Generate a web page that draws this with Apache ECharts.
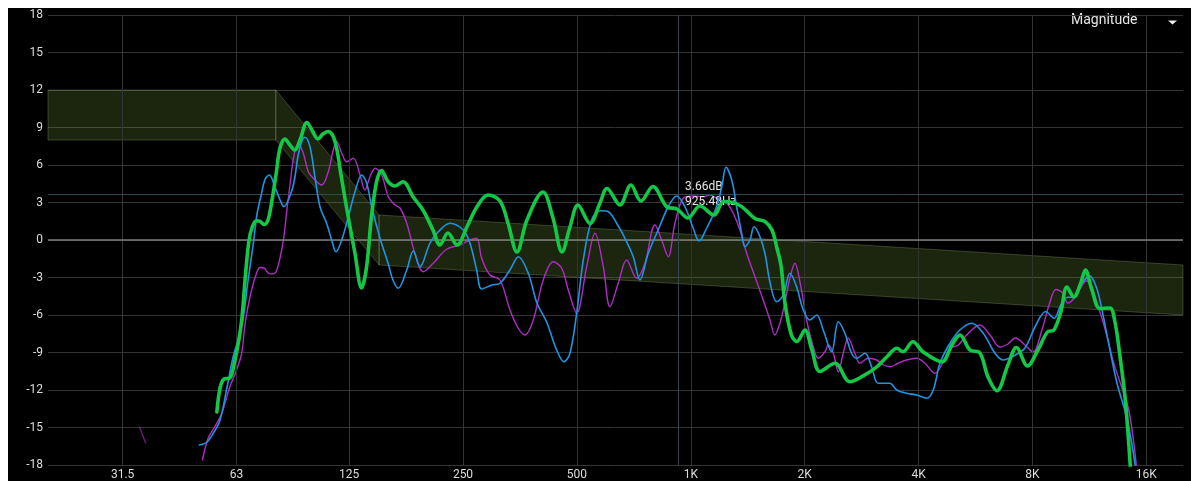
<!DOCTYPE html>
<html>
<head>
<meta charset="utf-8">
<script src="https://cdn.jsdelivr.net/npm/echarts@6/dist/echarts.min.js"></script>
<style>
  html, body { margin: 0; padding: 0; background: #fff; }
  #chart { position: absolute; left: 8px; top: 8px; width: 1183px; height: 473px; background: #000; }
</style>
</head>
<body>
<div id="chart"></div>
<script>
// Octave tick positions (Hz) and their labels
const tickFreqs = [31.5, 63, 125, 250, 500, 1000, 2000, 4000, 8000, 16000];
const tickLabels = ['31.5', '63', '125', '250', '500', '1K', '2K', '4K', '8K', '16K'];

// Target band: corner frequencies with upper / lower limits (dB)
const bandFreqs = [20, 80, 150, 20000];
const bandUpper = [12, 12, 2, -2];
const bandLower = [8, 8, -2, -6];

// Cursor readout
const cursorFreq = 925.48;
const cursorDb = 3.66;

// Measurement traces: [frequency Hz, level dB]
const magentaStray = [[34.9,-14.94],[35.4,-15.44],[36.2,-16.22]];

const magentaCurve = [
  [51.2,-17.6],[53.0,-15.86],[55.2,-14.94],[57.6,-13.86],[60.5,-11.74],[63.0,-10.4],[65.0,-9.06],[66.3,-6.8],
  [68.1,-4.8],[69.6,-3.6],[70.9,-2.8],[72.6,-2.2],[74.5,-2.24],[76.4,-2.64],[78.2,-2.72],[80.1,-2.56],
  [82.1,-1.44],[84.1,0.32],[85.6,2.4],[87.2,4.4],[89.4,6.8],[91.7,7.74],[94.6,6.94],[97.5,5.46],
  [100.5,4.94],[105.8,4.4],[110.1,5.46],[113.5,7.2],[115.9,7.86],[119.5,6.94],[123.2,6.26],[128.2,6.54],
  [133.6,5.2],[137.6,4.0],[141.9,5.06],[146.4,5.74],[152.4,5.2],[158.7,3.46],[165.2,2.8],[170.4,2.56],
  [177.5,1.34],[186.6,-1.06],[196.3,-2.54],[208.6,-1.86],[226.3,-0.74],[245.4,-0.4],[260.8,0],[271.7,0.14],
  [280.1,-1.46],[294.6,-2.8],[313.1,-3.2],[332.7,-5.6],[350.0,-7.06],[364.5,-7.6],[383.4,-6.4],[407.4,-3.2],
  [433.1,-1.74],[455.8,-2.26],[474.5,-4.0],[499.3,-5.86],[530.6,-2.14],[558.2,0.54],[587.2,-2.14],[611.5,-5.34],
  [643.1,-3.46],[676.9,-1.6],[719.3,-3.06],[756.5,-1.86],[804.0,1.2],[837.5,0],[871.8,-1.34],[908.1,1.34],
  [955.2,3.34],[1015,3.52],[1078,3.46],[1123,3.6],[1170,3.34],[1244,2.94],[1295,2.14],[1349,0.8],
  [1405,-1.06],[1478,-2.94],[1554,-4.8],[1619,-6.4],[1668,-7.6],[1720,-6.66],[1756,-5.6],[1828,-3.06],
  [1885,-1.86],[1943,-3.34],[2024,-6.4],[2107,-8.54],[2172,-9.46],[2263,-8.94],[2309,-8.4],[2381,-9.06],
  [2454,-10.54],[2529,-9.06],[2607,-7.86],[2715,-9.06],[2800,-9.86],[2944,-9.46],[3099,-9.6],[3227,-10.0],
  [3361,-10.14],[3535,-9.86],[3719,-9.6],[3953,-9.46],[4158,-9.86],[4419,-10.66],[4648,-9.74],[4842,-8.66],
  [5092,-8.4],[5360,-7.6],[5811,-6.8],[6175,-7.6],[6564,-8.56],[6891,-8.32],[7213,-7.84],[7642,-8.4],
  [8023,-8.96],[8495,-7.08],[8855,-5.18],[9229,-3.96],[9612,-4.23],[9916,-5.04],[10227,-4.78],[10660,-3.96],
  [11103,-3.28],[11335,-3.42],[11815,-4.91],[12435,-7.08],[13103,-9.79],[13648,-11.42],[14372,-13.58],[14979,-17.38],
  [15201,-20]
];

const blueCurve = [
  [50.2,-16.4],[52.5,-16.2],[54.7,-15.46],[57.0,-14.4],[59.4,-11.84],[61.7,-9.36],[63.6,-8.0],[65.6,-6.24],
  [67.6,-3.2],[69.8,-0.24],[71.3,2.0],[73.1,3.52],[75.0,4.88],[76.9,5.2],[79.6,4.24],[82.1,3.2],
  [84.1,2.66],[87.2,3.52],[89.4,4.64],[91.7,6.8],[93.8,7.92],[95.5,8.22],[98.5,7.46],[101.5,5.06],
  [104.7,2.66],[109.0,1.34],[112.4,0],[115.4,-0.94],[119.5,0],[124.4,1.86],[129.5,3.84],[135.0,5.2],
  [139.1,4.54],[143.4,2.66],[150.8,0.16],[158.7,-1.92],[163.2,-3.2],[168.6,-3.86],[177.5,-2.4],[184.7,-0.88],
  [192.4,-2.14],[204.4,-0.26],[215.1,0.66],[230.9,1.34],[250.4,0.8],[260.8,-0.26],[271.7,-2.4],[280.1,-3.92],
  [298.2,-3.6],[313.1,-3.46],[332.7,-2.4],[350.0,-1.34],[371.9,-2.66],[392.1,-5.04],[415.9,-6.56],[442.1,-8.8],
  [462.2,-9.74],[479.4,-9.06],[499.3,-5.86],[519.8,-1.6],[547.0,1.6],[575.5,2.34],[605.2,2.26],[636.9,1.34],
  [669.9,0.14],[704.6,-1.34],[733.9,-3.2],[771.9,-1.06],[819.9,0.8],[871.8,2.66],[917.5,3.52],[965.1,2.66],
  [1015,0.94],[1052,-0.08],[1101,0.94],[1170,2.66],[1209,4.32],[1239,5.82],[1283,4.8],[1322,2.66],
  [1363,0.54],[1390,-0.54],[1434,0],[1469,1.06],[1517,0.4],[1570,-1.06],[1619,-3.36],[1686,-4.94],
  [1756,-4.4],[1828,-2.66],[1904,-3.74],[1983,-5.6],[2065,-6.4],[2151,-6.0],[2239,-7.2],[2357,-8.94],
  [2454,-6.54],[2555,-7.46],[2661,-9.06],[2743,-9.46],[2886,-9.06],[3005,-10.14],[3130,-11.46],[3361,-11.46],
  [3501,-12.0],[3719,-12.26],[3953,-12.4],[4201,-12.66],[4374,-12.0],[4555,-9.86],[4842,-8.26],[5145,-7.2],
  [5525,-6.66],[5929,-7.46],[6367,-9.06],[6696,-9.6],[7126,-9.28],[7642,-8.64],[8146,-6.88],[8674,-5.72],
  [9128,-6.26],[9513,-5.18],[9916,-4.58],[10334,-4.58],[10771,-3.55],[11335,-2.87],[11815,-3.82],[12187,-5.45],
  [12701,-8.16],[13376,-11.42],[14215,-14.26],[14979,-18.2],[15110,-20]
];

const greenCurve = [
  [55.9,-13.76],[57.0,-11.84],[58.4,-11.12],[60.5,-11.04],[62.4,-9.6],[63.9,-8.0],[65.1,-6.24],[66.7,-2.4],
  [68.0,0],[69.2,0.96],[70.9,1.52],[72.2,1.52],[74.5,1.24],[76.3,1.6],[78.2,3.2],[80.1,5.2],
  [82.1,7.36],[84.6,8.08],[87.2,7.6],[89.9,7.2],[92.7,8.0],[96.7,9.4],[99.7,8.8],[103.4,8.08],
  [106.6,8.48],[109.9,8.68],[113.3,8.32],[116.1,7.2],[119.0,5.2],[123.4,2.4],[129.5,-1.04],[134.8,-3.84],
  [138.9,-2.24],[143.2,1.84],[147.7,4.64],[152.2,5.56],[158.4,4.68],[165.2,4.32],[173.5,4.66],[184.4,3.46],
  [195.9,2.4],[208.2,0.8],[217.3,-0.4],[228.1,0.56],[241.0,-0.4],[256.1,1.06],[272.2,2.66],[291.0,3.6],
  [313.1,3.12],[328.7,1.36],[347.2,-0.96],[369.0,1.6],[406.7,3.84],[432.3,1.76],[456.6,-0.96],[479.4,1.04],
  [503.3,2.8],[541.4,1.32],[575.5,2.96],[600.4,4.12],[649.8,2.8],[694.8,4.4],[738.4,3.12],[794.3,4.28],
  [864.9,2.64],[919.2,2.48],[982.9,1.76],[1057,2.72],[1151,2.0],[1224,3.08],[1349,2.76],[1478,1.72],
  [1570,1.48],[1639,0.8],[1689,-0.64],[1731,-2.0],[1774,-5.04],[1845,-7.6],[1908,-8.12],[2003,-7.2],
  [2090,-8.8],[2195,-10.52],[2405,-9.86],[2634,-11.34],[2939,-10.64],[3105,-10.14],[3300,-9.34],[3507,-8.66],
  [3637,-8.94],[3865,-8.14],[4108,-8.94],[4611,-9.74],[4901,-8.4],[5145,-7.6],[5468,-8.8],[5811,-9.04],
  [6101,-10.94],[6445,-12.06],[6891,-10.0],[7257,-8.6],[7759,-10.08],[8271,-8.8],[8764,-7.36],[9117,-7.2],
  [9513,-5.72],[9868,-3.76],[10296,-4.56],[10712,-3.52],[11043,-2.4],[11453,-3.84],[12062,-5.48],[12818,-5.44],
  [13215,-6.54],[13623,-9.25],[14078,-12.78],[14523,-18.2],[14656,-20]
];

const FONT = 'Roboto';
const chart = echarts.init(document.getElementById('chart'), null, { renderer: 'canvas' });

function tickLabelFor(v) {
  for (let i = 0; i < tickFreqs.length; i++) {
    if (Math.abs(Math.log(v / tickFreqs[i])) < 0.01) return tickLabels[i];
  }
  return '';
}

function traceSeries(name, data, color, width, z) {
  return {
    name, type: 'line', data, z,
    showSymbol: false, symbol: 'none', smooth: 0.35,
    lineStyle: { color, width, cap: 'round', join: 'round' },
    silent: true, clip: true
  };
}

const option = {
  backgroundColor: '#000',
  animation: false,
  grid: { left: 40, right: 8, top: 7, bottom: 16 },
  xAxis: {
    type: 'log', logBase: 10, min: 20, max: 20000,
    axisLine: { show: false }, axisTick: { show: false }, splitLine: { show: false },
    axisLabel: {
      customValues: tickFreqs,
      formatter: tickLabelFor,
      color: '#dcdcdc', fontSize: 12, fontFamily: FONT, margin: 4
    }
  },
  yAxis: {
    type: 'value', min: -18, max: 18, interval: 3,
    axisLine: { show: false }, axisTick: { show: false },
    splitLine: { lineStyle: { color: '#333333', width: 1 } },
    axisLabel: { color: '#dcdcdc', fontSize: 12, fontFamily: FONT, margin: 5 }
  },
  graphic: [
    {
      type: 'text', left: 1063, top: 5, silent: true,
      style: { text: 'Magnitude', fill: '#e6e6e6', font: '14px ' + FONT }
    },
    {
      type: 'polygon', silent: true,
      shape: { points: [[1160, 12.5], [1169, 12.5], [1164.5, 16.5]] },
      style: { fill: '#f0f0f0' }
    }
  ],
  series: [
    // vertical octave grid and 0 dB reference
    {
      type: 'line', data: [], z: 1, silent: true,
      markLine: {
        silent: true, symbol: 'none', animation: false,
        label: { show: false },
        data: tickFreqs.map(f => ({ xAxis: f, lineStyle: { color: '#333333', width: 1, type: 'solid' } }))
          .concat([{ yAxis: 0, lineStyle: { color: '#7d7d7d', width: 1.5, type: 'solid' } }])
      }
    },
    // target band
    {
      type: 'custom', z: 2, silent: true,
      data: bandFreqs.slice(0, -1).map((f, i) => [f, bandUpper[i]]),
      renderItem: function (params, api) {
        const i = params.dataIndex;
        const pts = [
          api.coord([bandFreqs[i], bandUpper[i]]),
          api.coord([bandFreqs[i + 1], bandUpper[i + 1]]),
          api.coord([bandFreqs[i + 1], bandLower[i + 1]]),
          api.coord([bandFreqs[i], bandLower[i]])
        ];
        return {
          type: 'polygon',
          shape: { points: pts },
          style: { fill: 'rgba(128,170,58,0.22)', stroke: 'rgba(150,165,120,0.32)', lineWidth: 1 }
        };
      }
    },
    traceSeries('magenta-low', magentaStray, '#6c1c78', 1.4, 3),
    traceSeries('magenta', magentaCurve, '#b02cc6', 1.4, 4),
    traceSeries('blue', blueCurve, '#1c95e6', 1.6, 5),
    traceSeries('green', greenCurve, '#13c846', 3.6, 6),
    // cursor crosshair and readout
    {
      type: 'line', data: [[cursorFreq, cursorDb]], z: 7, silent: true,
      symbol: 'none', lineStyle: { opacity: 0 },
      markLine: {
        silent: true, symbol: 'none', animation: false,
        label: { show: false },
        lineStyle: { color: '#33474f', width: 1, type: 'solid' },
        data: [{ xAxis: cursorFreq }, { yAxis: cursorDb }]
      },
      markPoint: {
        silent: true, animation: false,
        symbol: 'circle', symbolSize: 0,
        itemStyle: { color: 'transparent' },
        label: {
          show: true, position: 'right', distance: 7,
          formatter: cursorDb.toFixed(2) + 'dB\n' + cursorFreq.toFixed(2) + 'Hz',
          color: '#e6e6e6', fontSize: 12, lineHeight: 15, fontFamily: FONT, align: 'left'
        },
        data: [{ coord: [cursorFreq, cursorDb] }]
      }
    }
  ]
};

chart.setOption(option);
</script>
</body>
</html>
